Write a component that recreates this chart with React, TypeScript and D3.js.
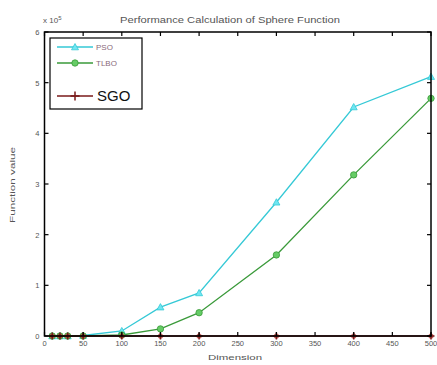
import React from "react";
import * as d3 from "d3";

const dims = [10, 20, 30, 50, 100, 150, 200, 300, 400, 500];
const psoValues = [0.0, 0.0, 0.0, 0.01, 0.1, 0.57, 0.85, 2.64, 4.52, 5.12];
const tlboValues = [0.0, 0.0, 0.0, 0.0, 0.02, 0.14, 0.46, 1.6, 3.18, 4.69];
const sgoValues = [0, 0, 0, 0, 0, 0, 0, 0, 0, 0];
const xTicks = [0, 50, 100, 150, 200, 250, 300, 350, 400, 450, 500];
const yTicks = [0, 1, 2, 3, 4, 5, 6];

const W = 437;
const H = 365;
const left = 44.5;
const right = 431;
const top = 32;
const bottom = 336;

export default function App() {
  const x = d3.scaleLinear().domain([0, 500]).range([left, right]);
  const y = d3.scaleLinear().domain([0, 6]).range([bottom, top]);
  const line = d3
    .line<number>()
    .x((_, i) => x(dims[i]))
    .y((v) => y(v));

  const psoColor = "#35c9d6";
  const psoMarker = "#6fe6f2";
  const tlboColor = "#3a9a3a";
  const tlboMarker = "#66cc66";
  const sgoColor = "#7a1a1a";
  const font = "'Liberation Sans', Arial, sans-serif";
  const textColor = "#555";

  const tri = (cx: number, cy: number, r = 3.5) =>
    `M${cx},${cy - r} L${cx + r},${cy + r * 0.8} L${cx - r},${cy + r * 0.8} Z`;

  const plus = (cx: number, cy: number, r = 3.5) =>
    `M${cx - r},${cy} L${cx + r},${cy} M${cx},${cy - r} L${cx},${cy + r}`;

  return (
    <svg
      width={W}
      height={H}
      style={{ position: "absolute", left: 0, top: 0, background: "#fff" }}
    >
      {/* title */}
      <text
        x={120}
        y={23}
        fontSize={9}
        fontFamily={font}
        fill={textColor}
        textLength={220}
        lengthAdjust="spacingAndGlyphs"
      >
        Performance Calculation of Sphere Function
      </text>
      {/* exponent */}
      <text x={43} y={23} fontSize={8} fontFamily={font} fill={textColor}>
        x 10
        <tspan dy={-3.5} fontSize={6}>
          5
        </tspan>
      </text>

      {/* lines */}
      <path d={line(psoValues) || ""} fill="none" stroke={psoColor} strokeWidth={1.3} />
      <path d={line(tlboValues) || ""} fill="none" stroke={tlboColor} strokeWidth={1.3} />
      <path d={line(sgoValues) || ""} fill="none" stroke={sgoColor} strokeWidth={1.3} />

      {/* markers */}
      {psoValues.map((v, i) => (
        <path
          key={"p" + i}
          d={tri(x(dims[i]), y(v))}
          fill={psoMarker}
          stroke={psoColor}
          strokeWidth={0.8}
        />
      ))}
      {tlboValues.map((v, i) => (
        <circle
          key={"t" + i}
          cx={x(dims[i])}
          cy={y(v)}
          r={3.2}
          fill={tlboMarker}
          stroke={tlboColor}
          strokeWidth={0.8}
        />
      ))}
      {sgoValues.map((v, i) => (
        <g key={"s" + i}>
          <circle cx={x(dims[i])} cy={y(v)} r={2.6} fill="#b8403a" opacity={0.8} />
          <path d={plus(x(dims[i]), y(v))} stroke={sgoColor} strokeWidth={1.5} />
        </g>
      ))}

      {/* frame */}
      <rect
        x={left}
        y={top}
        width={right - left}
        height={bottom - top}
        fill="none"
        stroke="#000"
        strokeWidth={1.5}
      />

      {/* x ticks */}
      {xTicks.map((t) => (
        <g key={"xt" + t}>
          <line x1={x(t)} x2={x(t)} y1={bottom} y2={bottom - 4} stroke="#000" strokeWidth={1.2} />
          <line x1={x(t)} x2={x(t)} y1={top} y2={top + 4} stroke="#000" strokeWidth={1.2} />
          <text
            x={x(t)}
            y={bottom + 10}
            fontSize={7.5}
            fontFamily={font}
            fill={textColor}
            textAnchor="middle"
          >
            {t}
          </text>
        </g>
      ))}
      {/* y ticks */}
      {yTicks.map((t) => (
        <g key={"yt" + t}>
          <line x1={left} x2={left + 4} y1={y(t)} y2={y(t)} stroke="#000" strokeWidth={1.2} />
          <line x1={right} x2={right - 4} y1={y(t)} y2={y(t)} stroke="#000" strokeWidth={1.2} />
          <text
            x={left - 5}
            y={y(t) + 3}
            fontSize={7.5}
            fontFamily={font}
            fill={textColor}
            textAnchor="end"
          >
            {t}
          </text>
        </g>
      ))}

      {/* axis labels */}
      <text
        x={208}
        y={360}
        fontSize={8}
        fontFamily={font}
        fill={textColor}
        textLength={54}
        lengthAdjust="spacingAndGlyphs"
      >
        Dimension
      </text>
      <text
        transform={`translate(15,223) rotate(-90)`}
        fontSize={8}
        fontFamily={font}
        fill={textColor}
        textLength={76}
        lengthAdjust="spacingAndGlyphs"
      >
        Function value
      </text>

      {/* legend */}
      <rect x={50} y={38} width={92} height={71} fill="#fff" stroke="#000" strokeWidth={1.2} />
      <line x1={57} x2={93} y1={47} y2={47} stroke={psoColor} strokeWidth={1.3} />
      <path d={tri(75, 47)} fill={psoMarker} stroke={psoColor} strokeWidth={0.8} />
      <text x={96} y={50} fontSize={8} fontFamily={font} fill="#8a6a7a">
        PSO
      </text>
      <line x1={57} x2={93} y1={63} y2={63} stroke={tlboColor} strokeWidth={1.3} />
      <circle cx={75} cy={63} r={3.2} fill={tlboMarker} stroke={tlboColor} strokeWidth={0.8} />
      <text x={96} y={66} fontSize={8} fontFamily={font} fill="#8a6a7a">
        TLBO
      </text>
      <line x1={57} x2={93} y1={96} y2={96} stroke={sgoColor} strokeWidth={1.3} />
      <path d={plus(75, 96, 4.5)} stroke={sgoColor} strokeWidth={1.5} />
      <text x={97} y={101} fontSize={15} fontFamily={font} fill="#111">
        SGO
      </text>
    </svg>
  );
}
